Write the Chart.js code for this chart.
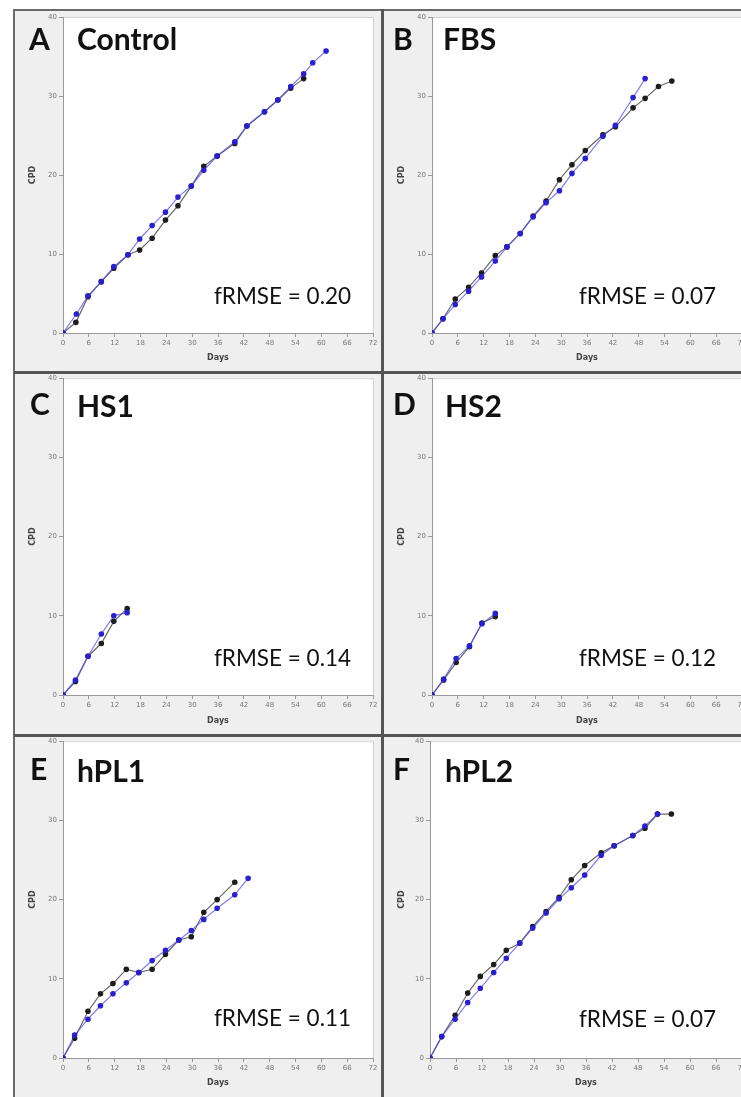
<!DOCTYPE html>
<html>
<head>
<meta charset="utf-8">
<script src="https://cdn.jsdelivr.net/npm/chart.js@4/dist/chart.umd.min.js"></script>
<style>
html, body { margin: 0; padding: 0; overflow: hidden; background: #fff; }
#page { position: relative; width: 741px; height: 1097px; overflow: hidden; }
.panel { position: absolute; background: #efefef; overflow: visible; }
.panel canvas { position: absolute; left: 0; top: 0; }
.lbl { position: absolute; font-family: Lato, sans-serif; font-weight: bold; font-size: 30px; line-height: 30px; color: #111; white-space: nowrap; }
.rmse { position: absolute; font-family: Lato, sans-serif; font-size: 22.5px; line-height: 22px; color: #111; white-space: nowrap; }
.rule { position: absolute; background: #6a6a6a; }
</style>
</head>
<body>
<div id="page">
  <div class="panel" style="left:14px;top:10px;width:369px;height:362px"><canvas id="cA" width="369" height="362"></canvas></div>
  <div class="panel" style="left:383px;top:10px;width:369px;height:362px"><canvas id="cB" width="369" height="362"></canvas></div>
  <div class="panel" style="left:14px;top:372px;width:369px;height:363px"><canvas id="cC" width="369" height="363"></canvas></div>
  <div class="panel" style="left:383px;top:372px;width:369px;height:363px"><canvas id="cD" width="369" height="363"></canvas></div>
  <div class="panel" style="left:14px;top:735px;width:369px;height:362px"><canvas id="cE" width="369" height="362"></canvas></div>
  <div class="panel" style="left:383px;top:735px;width:369px;height:362px"><canvas id="cF" width="369" height="362"></canvas></div>

  <!-- frame -->
  <div class="rule" style="left:14px;top:9px;width:727px;height:2px"></div>
  <div class="rule" style="left:13px;top:9px;width:2px;height:1088px"></div>
  <div class="rule" style="left:381px;top:9px;width:3px;height:1088px;background:#555"></div>
  <div class="rule" style="left:14px;top:371px;width:727px;height:3px;background:#555"></div>
  <div class="rule" style="left:14px;top:734px;width:727px;height:3px;background:#555"></div>

  <div class="lbl" style="left:29px;top:23px">A</div>
  <div class="lbl" style="left:77px;top:23px">Control</div>
  <div class="lbl" style="left:393px;top:23px">B</div>
  <div class="lbl" style="left:443px;top:23px">FBS</div>
  <div class="lbl" style="left:30px;top:388px">C</div>
  <div class="lbl" style="left:77px;top:390px">HS1</div>
  <div class="lbl" style="left:393px;top:388px">D</div>
  <div class="lbl" style="left:445px;top:390px">HS2</div>
  <div class="lbl" style="left:30px;top:753px">E</div>
  <div class="lbl" style="left:77px;top:755px">hPL1</div>
  <div class="lbl" style="left:393px;top:753px">F</div>
  <div class="lbl" style="left:445px;top:755px">hPL2</div>

  <div class="rmse" style="left:214px;top:285px">fRMSE = 0.20</div>
  <div class="rmse" style="left:579px;top:285px">fRMSE = 0.07</div>
  <div class="rmse" style="left:214px;top:647px">fRMSE = 0.14</div>
  <div class="rmse" style="left:579px;top:647px">fRMSE = 0.12</div>
  <div class="rmse" style="left:214px;top:1007px">fRMSE = 0.11</div>
  <div class="rmse" style="left:579px;top:1008px">fRMSE = 0.07</div>
</div>

<script>
// axis ticks
const dayTicks = [0, 6, 12, 18, 24, 30, 36, 42, 48, 54, 60, 66, 72];
const cpdTicks = [0, 10, 20, 30, 40];

// A - Control
const controlDaysBlack = [0, 3.0, 5.8, 8.9, 11.8, 15.1, 17.8, 20.7, 23.8, 26.7, 29.8, 32.7, 35.8, 39.9, 42.7, 46.8, 49.9, 52.9, 55.9];
const controlCpdBlack  = [0, 1.35, 4.6, 6.5, 8.2, 9.9, 10.5, 12.0, 14.3, 16.1, 18.6, 21.1, 22.4, 24.0, 26.2, 28.0, 29.5, 31.0, 32.2];
const controlDaysBlue  = [0, 3.1, 5.8, 8.9, 11.8, 15.1, 17.8, 20.7, 23.8, 26.7, 29.8, 32.7, 35.8, 39.9, 42.7, 46.8, 49.9, 52.9, 55.9, 58.0, 61.1];
const controlCpdBlue   = [0, 2.4, 4.7, 6.5, 8.4, 9.9, 11.9, 13.6, 15.3, 17.2, 18.6, 20.6, 22.4, 24.2, 26.2, 28.0, 29.5, 31.2, 32.8, 34.2, 35.7];

// B - FBS
const fbsDaysBlack = [0, 2.55, 5.4, 8.5, 11.5, 14.7, 17.4, 20.5, 23.5, 26.5, 29.6, 32.5, 35.6, 39.7, 42.6, 46.7, 49.5, 52.6, 55.7];
const fbsCpdBlack  = [0, 1.8, 4.3, 5.8, 7.6, 9.8, 10.9, 12.6, 14.8, 16.7, 19.4, 21.3, 23.1, 25.1, 26.1, 28.5, 29.7, 31.2, 31.9];
const fbsDaysBlue  = [0, 2.55, 5.4, 8.5, 11.5, 14.7, 17.4, 20.5, 23.5, 26.5, 29.6, 32.5, 35.6, 39.7, 42.6, 46.7, 49.5];
const fbsCpdBlue   = [0, 1.8, 3.6, 5.3, 7.1, 9.1, 10.9, 12.6, 14.7, 16.5, 18.0, 20.2, 22.1, 24.9, 26.3, 29.8, 32.2];

// C - HS1
const hs1DaysBlack = [0, 2.9, 5.8, 8.9, 11.8, 14.9];
const hs1CpdBlack  = [0, 1.7, 4.9, 6.5, 9.3, 10.9];
const hs1DaysBlue  = [0, 2.9, 5.8, 8.9, 11.8, 14.9];
const hs1CpdBlue   = [0, 1.9, 4.9, 7.7, 10.0, 10.4];

// D - HS2
const hs2DaysBlack = [0, 2.7, 5.6, 8.7, 11.6, 14.7];
const hs2CpdBlack  = [0, 1.9, 4.1, 6.1, 9.1, 9.9];
const hs2DaysBlue  = [0, 2.7, 5.6, 8.7, 11.6, 14.7];
const hs2CpdBlue   = [0, 2.0, 4.6, 6.2, 9.0, 10.3];

// E - hPL1
const hpl1DaysBlack = [0, 2.7, 5.8, 8.7, 11.6, 14.7, 17.6, 20.7, 23.8, 26.9, 29.8, 32.7, 35.8, 39.9];
const hpl1CpdBlack  = [0, 2.5, 5.9, 8.1, 9.4, 11.2, 10.8, 11.2, 13.1, 14.9, 15.3, 18.4, 20.0, 22.2];
const hpl1DaysBlue  = [0, 2.7, 5.8, 8.7, 11.6, 14.7, 17.6, 20.7, 23.8, 26.9, 29.8, 32.7, 35.8, 39.9, 43.0];
const hpl1CpdBlue   = [0, 2.9, 4.9, 6.6, 8.1, 9.5, 10.8, 12.3, 13.6, 14.9, 16.1, 17.5, 18.9, 20.6, 22.7];

// F - hPL2
const hpl2DaysBlack = [0, 2.7, 5.8, 8.7, 11.6, 14.7, 17.6, 20.7, 23.7, 26.8, 29.8, 32.6, 35.7, 39.5, 42.5, 46.8, 49.6, 52.5, 55.7];
const hpl2CpdBlack  = [0, 2.7, 5.4, 8.2, 10.3, 11.8, 13.6, 14.5, 16.6, 18.5, 20.3, 22.5, 24.3, 25.9, 26.8, 28.1, 29.0, 30.8, 30.8];
const hpl2DaysBlue  = [0, 2.7, 5.8, 8.7, 11.6, 14.7, 17.6, 20.7, 23.7, 26.8, 29.8, 32.6, 35.7, 39.5, 42.5, 46.8, 49.6, 52.5];
const hpl2CpdBlue   = [0, 2.7, 4.9, 7.0, 8.8, 10.8, 12.6, 14.5, 16.4, 18.3, 20.1, 21.5, 23.1, 25.6, 26.8, 28.1, 29.3, 30.8];

function toPoints(xs, ys) {
    return xs.map((x, i) => ({ x: x, y: ys[i] }));
}

// white plot area with a thin grey box around it
const plotBox = {
    id: 'plotBox',
    beforeDraw(chart) {
        const { ctx, chartArea } = chart;
        ctx.save();
        ctx.fillStyle = '#ffffff';
        ctx.fillRect(chartArea.left, chartArea.top, chartArea.right - chartArea.left, chartArea.bottom - chartArea.top);
        ctx.strokeStyle = '#d2d2d2';
        ctx.lineWidth = 1;
        ctx.strokeRect(chartArea.left + 0.5, chartArea.top + 0.5, chartArea.right - chartArea.left, chartArea.bottom - chartArea.top);
        ctx.restore();
    }
};

function makePanel(canvasId, blackX, blackY, blueX, blueY, padTop, xHeight, yWidth) {
    const ctx = document.getElementById(canvasId).getContext('2d');
    return new Chart(ctx, {
        type: 'scatter',
        data: {
            datasets: [{
                data: toPoints(blueX, blueY),
                showLine: true,
                borderColor: 'rgba(70, 70, 240, 0.7)',
                borderWidth: 1.2,
                pointBackgroundColor: '#2a1fd0',
                pointBorderColor: '#2a1fd0',
                pointRadius: 2.2
            }, {
                data: toPoints(blackX, blackY),
                showLine: true,
                borderColor: 'rgba(40, 40, 40, 0.7)',
                borderWidth: 1.2,
                pointBackgroundColor: '#1c1c1c',
                pointBorderColor: '#1c1c1c',
                pointRadius: 2.2
            }]
        },
        options: {
            responsive: false,
            animation: false,
            layout: { padding: { top: padTop, right: 10, left: 0, bottom: 0 } },
            plugins: {
                legend: { display: false },
                tooltip: { enabled: false }
            },
            scales: {
                x: {
                    type: 'linear',
                    min: 0,
                    max: 72,
                    afterBuildTicks: (axis) => { axis.ticks = dayTicks.map(v => ({ value: v })); },
                    afterFit: (axis) => { axis.height = xHeight; },
                    grid: { drawOnChartArea: false, tickLength: 4, color: '#999' },
                    border: { color: '#999' },
                    ticks: { font: { size: 7, family: 'DejaVu Sans' }, color: '#777', padding: 2, maxRotation: 0 },
                    title: { display: true, text: 'Days', font: { size: 8, weight: 'bold', family: 'DejaVu Sans' }, color: '#444', padding: { top: 0, bottom: 9 } }
                },
                y: {
                    type: 'linear',
                    min: 0,
                    max: 40,
                    afterBuildTicks: (axis) => { axis.ticks = cpdTicks.map(v => ({ value: v })); },
                    afterFit: (axis) => { axis.width = yWidth; },
                    grid: { drawOnChartArea: false, tickLength: 4, color: '#999' },
                    border: { color: '#999' },
                    ticks: { font: { size: 7, family: 'DejaVu Sans' }, color: '#777', padding: 2 },
                    title: { display: true, text: 'CPD', font: { size: 8, weight: 'bold', family: 'DejaVu Sans' }, color: '#444', padding: { top: 14, bottom: 0 } }
                }
            }
        },
        plugins: [plotBox]
    });
}

makePanel('cA', controlDaysBlack, controlCpdBlack, controlDaysBlue, controlCpdBlue, 7, 39, 49);
makePanel('cB', fbsDaysBlack, fbsCpdBlack, fbsDaysBlue, fbsCpdBlue, 7, 39, 49);
makePanel('cC', hs1DaysBlack, hs1CpdBlack, hs1DaysBlue, hs1CpdBlue, 6, 40, 49);
makePanel('cD', hs2DaysBlack, hs2CpdBlack, hs2DaysBlue, hs2CpdBlue, 6, 40, 49);
makePanel('cE', hpl1DaysBlack, hpl1CpdBlack, hpl1DaysBlue, hpl1CpdBlue, 5, 39, 49);
makePanel('cF', hpl2DaysBlack, hpl2CpdBlack, hpl2DaysBlue, hpl2CpdBlue, 5, 39, 47);
</script>
</body>
</html>
